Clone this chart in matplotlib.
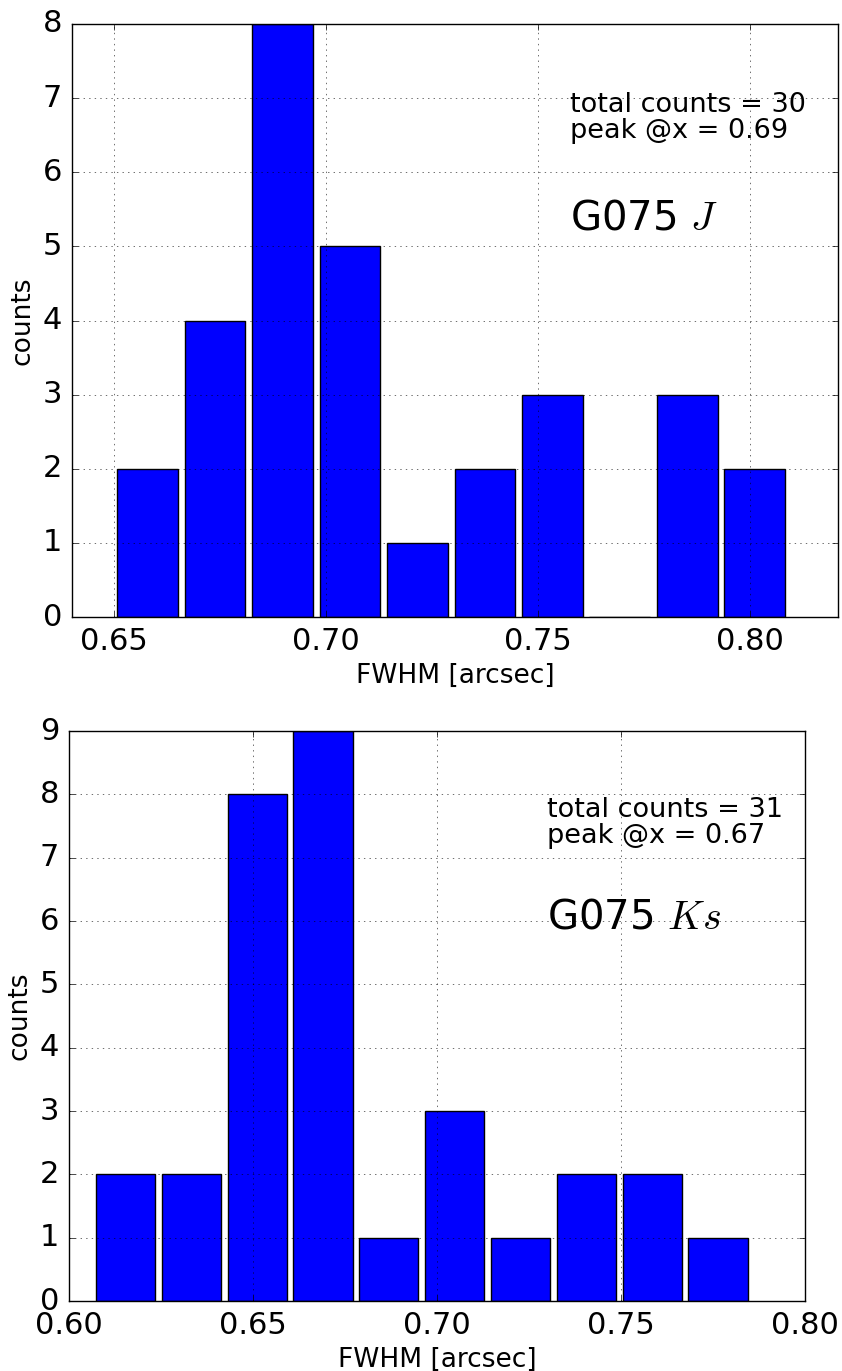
import numpy as np
import matplotlib
matplotlib.use("Agg")
import matplotlib.pyplot as plt

plt.style.use("classic")

# FWHM histograms (counts per bin)
j_range = (0.6499, 0.8091)
j_counts = [2, 4, 8, 5, 1, 2, 3, 0, 3, 2]
j_peak = 0.69

ks_range = (0.6064, 0.7853)
ks_counts = [2, 2, 8, 9, 1, 3, 1, 2, 2, 1]
ks_peak = 0.67

panels = [
    dict(rng=j_range, counts=j_counts, peak=j_peak, band="$J$",
         xlim=(0.64, 0.8208), xticks=[0.65, 0.70, 0.75, 0.80], ymax=8,
         rect=[72/842, 1 - 617/1371, 766/842, 593/1371]),
    dict(rng=ks_range, counts=ks_counts, peak=ks_peak, band="$Ks$",
         xlim=(0.60, 0.80), xticks=[0.60, 0.65, 0.70, 0.75, 0.80], ymax=9,
         rect=[69/842, 1 - 1301/1371, 736/842, 570/1371]),
]

fig = plt.figure(figsize=(8.42, 13.71), dpi=100, facecolor="white")

for p in panels:
    ax = fig.add_axes(p["rect"])
    counts = np.array(p["counts"], dtype=float)
    edges = np.linspace(p["rng"][0], p["rng"][1], len(counts) + 1)
    centers = 0.5 * (edges[:-1] + edges[1:])
    ax.hist(centers, bins=edges, weights=counts, rwidth=0.9,
            color="b", edgecolor="k", linewidth=1.0)
    ax.set_xlim(*p["xlim"])
    ax.set_ylim(0, p["ymax"])
    ax.set_xticks(p["xticks"])
    ax.set_xticklabels([f"{t:.2f}" for t in p["xticks"]])
    ax.set_yticks(range(p["ymax"] + 1))
    ax.tick_params(labelsize=22, pad=7)
    # classic style: dotted grid drawn over the bars
    ax.grid(True, linestyle=":", color="k", alpha=0.8)
    ax.set_xlabel("FWHM [arcsec]", fontsize=19)
    ax.set_ylabel("counts", fontsize=19)
    ax.text(0.65, 0.885,
            f"total counts = {int(counts.sum())}\npeak @x = {p['peak']:.2f}",
            transform=ax.transAxes, fontsize=19.5, va="top", ha="left",
            linespacing=1.0)
    ax.text(0.65, 0.654, "G075 " + p["band"], transform=ax.transAxes,
            fontsize=29, va="baseline", ha="left")

fig.savefig("out.png", dpi=100, facecolor="white")
